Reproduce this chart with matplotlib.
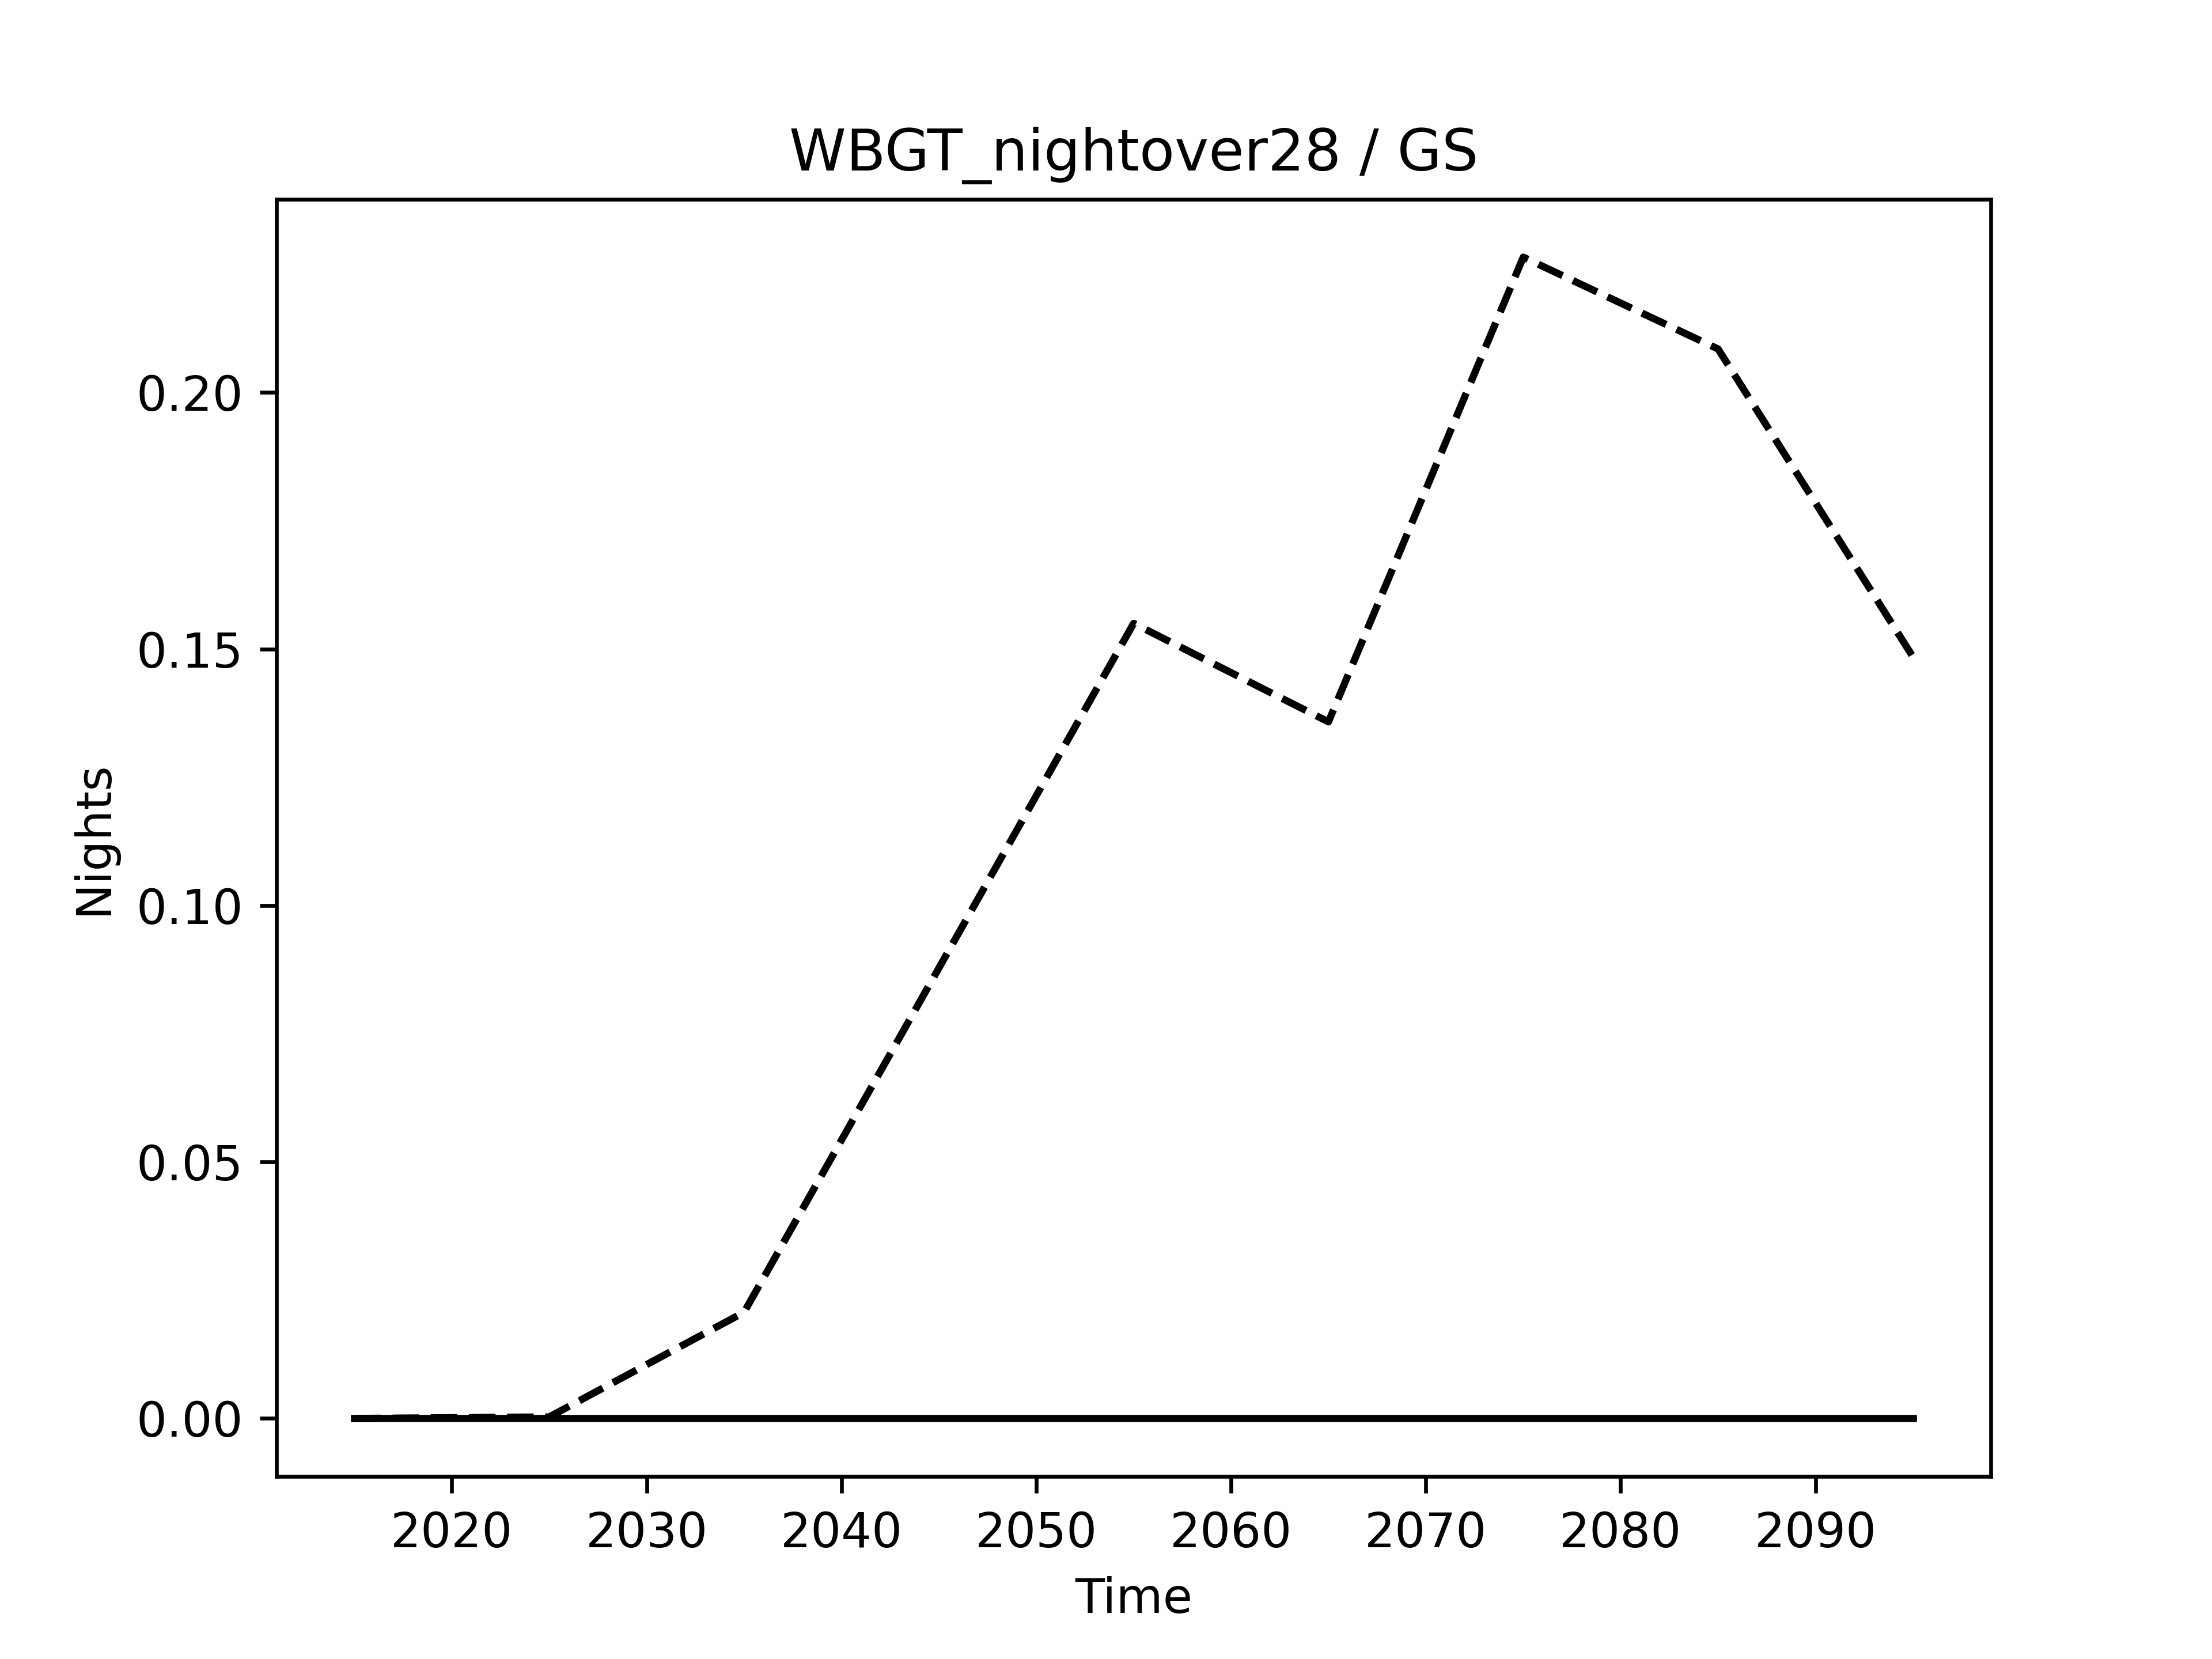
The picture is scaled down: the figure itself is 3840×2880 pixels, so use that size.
import matplotlib
matplotlib.use("Agg")
import matplotlib.pyplot as plt

# decadal values
years = [2015, 2025, 2035, 2045, 2055, 2065, 2075, 2085, 2095]
nights_dashed = [0.0, 0.0003, 0.0207, 0.0878, 0.155, 0.1358, 0.2264, 0.2085, 0.1485]
nights_solid = [0.0, 0.0, 0.0, 0.0, 0.0, 0.0, 0.0, 0.0, 0.0]

fig, ax = plt.subplots(figsize=(6.4, 4.8))
ax.plot(years, nights_dashed, color="k", ls="--", lw=1.5)
ax.plot(years, nights_solid, color="k", ls="-", lw=1.5)
ax.set_title("WBGT_nightover28 / GS")
ax.set_xlabel("Time")
ax.set_ylabel("Nights")
fig.savefig("out.png", dpi=600)
plt.close(fig)
